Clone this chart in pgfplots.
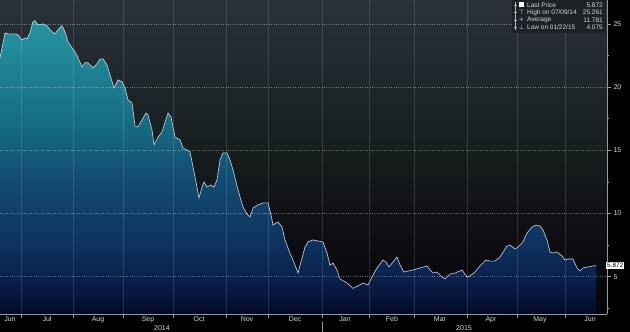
\documentclass[border=0pt]{standalone}
\usepackage{pgfplots}
\usepackage{pgfplotstable}
\pgfplotsset{compat=1.18}
\usepackage{fontspec}
\setmainfont{Liberation Sans}
\newfontfamily\symfont{DejaVu Sans}

\definecolor{lbl}{RGB}{215,215,215}
\definecolor{axcol}{RGB}{150,155,160}
\definecolor{linecol}{RGB}{205,215,225}
\definecolor{f0}{RGB}{4,10,40}
\definecolor{f1}{RGB}{10,32,76}
\definecolor{f2}{RGB}{14,52,96}
\definecolor{f3}{RGB}{19,76,114}
\definecolor{f4}{RGB}{22,110,132}
\definecolor{f5}{RGB}{38,148,160}
\definecolor{b0}{RGB}{5,5,10}
\definecolor{b1}{RGB}{10,10,14}
\definecolor{b2}{RGB}{18,18,22}
\definecolor{b3}{RGB}{22,30,30}
\definecolor{b4}{RGB}{30,38,42}
\definecolor{b5}{RGB}{42,50,58}
\definecolor{legbg}{RGB}{30,34,38}

\pgfdeclareverticalshading{areafill}{100bp}{color(0bp)=(f0); color(25bp)=(f0); color(31bp)=(f1); color(37.5bp)=(f2); color(48bp)=(f3); color(58bp)=(f4); color(75bp)=(f5); color(100bp)=(f5)}
\pgfdeclareverticalshading{bgshade}{100bp}{color(0bp)=(b0); color(25bp)=(b0); color(32bp)=(b1); color(41.5bp)=(b2); color(51bp)=(b3); color(60.5bp)=(b4); color(75bp)=(b5); color(100bp)=(b5)}

\pgfplotstableread{
x y
0 22.32
2 23.11
5 24.30
8 24.22
15 24.22
18 24.14
22 23.74
25 23.90
27 23.82
30 24.30
33 25.17
35 25.26
38 24.93
43 25.01
47 24.85
52 24.38
55 24.22
58 24.54
62 24.85
65 24.38
68 23.59
72 23.11
75 22.80
78 22.32
82 21.61
85 21.93
88 21.93
93 21.53
97 21.85
100 22.24
103 22.24
107 21.77
110 20.97
114 19.94
118 20.58
122 20.42
125 19.94
128 19.00
132 18.76
135 16.93
138 16.86
142 17.41
146 17.96
148 17.81
152 16.62
154 15.43
158 16.06
162 16.46
168 17.96
171 17.65
175 16.06
180 15.83
183 15.19
187 15.03
190 14.88
193 13.69
197 12.10
199 11.23
202 12.10
204 12.50
207 12.10
211 12.26
214 12.10
217 12.66
220 14.24
223 14.80
227 14.80
230 14.24
233 13.45
238 11.87
243 10.52
247 9.97
250 9.73
253 10.44
258 10.68
263 10.84
268 10.84
271 9.89
273 9.09
278 9.33
282 8.94
285 7.90
290 6.87
295 5.92
298 5.29
302 6.48
305 7.35
308 7.75
313 7.91
323 7.75
327 6.87
330 5.92
333 6.08
337 5.53
340 4.82
347 4.50
353 4.08
358 4.27
363 4.50
368 4.34
372 4.98
377 5.69
383 6.32
386 6.16
389 5.77
393 6.16
397 6.56
400 5.93
404 5.37
408 5.45
413 5.53
420 5.69
427 5.85
430 5.53
433 5.29
437 5.37
442 4.98
445 4.82
450 5.21
455 5.29
462 5.53
467 4.98
470 5.06
475 5.37
480 5.85
486 6.32
490 6.24
495 6.24
500 6.56
507 7.43
510 7.51
515 7.19
518 7.35
523 7.75
527 8.46
532 8.94
536 9.09
540 9.02
543 8.70
547 7.91
550 6.96
553 6.88
557 6.96
562 6.64
565 6.32
568 6.40
573 6.40
577 5.69
580 5.45
583 5.69
588 5.77
593 5.85
596 5.87
}\pricedata

\begin{document}
\begin{tikzpicture}[x=1pt,y=1pt]
\fill[black] (0,0) rectangle (630,332);
\begin{axis}[
  at={(0pt,18pt)}, anchor=south west,
  width=607pt, height=314pt, scale only axis,
  xmin=0, xmax=607, ymin=2.05, ymax=26.9,
  axis x line*=bottom, axis y line*=right,
  axis line style={axcol, line width=0.6pt},
  axis background/.style={shading=bgshade},
  axis on top,
  xtick={21,73,123,173,226,268,322,369,414,467,517,565},
  xticklabels={},
  extra x ticks={10,47,98,148,199,247,295,345,392,440,491,540,590},
  extra x tick labels={Jun,Jul,Aug,Sep,Oct,Nov,Dec,Jan,Feb,Mar,Apr,May,Jun},
  extra x tick style={grid=none, major tick length=0pt},
  ytick={5,10,15,20,25},
  minor ytick={2.5,7.5,12.5,17.5,22.5},
  extra y ticks={5.872},
  extra y tick labels={5.872},
  extra y tick style={grid=none, major tick length=0pt,
    tick label style={fill=white, text=black, inner sep=1pt, font=\fontsize{6.5}{7}\selectfont}},
  xmajorgrids, ymajorgrids,
  x grid style={draw=white, opacity=0.13, line width=0.5pt},
  y grid style={draw=white, opacity=0.38, dotted, line width=0.5pt},
  tick align=outside,
  major tick length=4pt, minor tick length=2pt,
  every tick/.style={axcol, line width=0.6pt},
  tick label style={lbl, font=\fontsize{7}{8}\selectfont},
  xticklabel style={yshift=1pt},
  yticklabel style={xshift=-1pt},
  /pgf/number format/assume math mode=true,
]
\addplot[draw=none, shading=areafill] table[x=x,y=y] {\pricedata} -- (axis cs:596,2.05) -- (axis cs:0,2.05) -- cycle;
\addplot[linecol, line width=0.6pt] table[x=x,y=y] {\pricedata};
\end{axis}
% year labels
\node[lbl, font=\fontsize{7}{8}\selectfont] at (162,4) {2014};
\node[lbl, font=\fontsize{7}{8}\selectfont] at (464,4) {2015};
\draw[axcol, line width=0.5pt] (322,0) -- (322,10);
% legend box
\fill[legbg] (512,299) rectangle (606,332);
\draw[axcol!70, line width=0.4pt] (515,330) -- (515,302);
\foreach \yy in {327,319.5,312,304.5} {\draw[axcol!70, line width=0.4pt] (514,\yy) -- (517,\yy);}
\fill[white] (519,324.5) rectangle (524,329.5);
\node[lbl, font=\symfont\fontsize{6}{6}\selectfont, inner sep=0pt] at (521.5,319.5) {⊤};
\node[lbl, font=\symfont\fontsize{6}{6}\selectfont, inner sep=0pt] at (521.5,312) {+};
\node[lbl, font=\symfont\fontsize{6}{6}\selectfont, inner sep=0pt] at (521.5,304.5) {⊥};
\begin{scope}[every node/.style={lbl, font=\fontsize{6.5}{7}\selectfont, inner sep=0pt}]
\node[anchor=west] at (527,327) {Last Price};
\node[anchor=west] at (527,319.5) {High on 07/09/14};
\node[anchor=west] at (527,312) {Average};
\node[anchor=west] at (527,304.5) {Low on 01/22/15};
\node[anchor=east] at (603,327) {5.872};
\node[anchor=east] at (603,319.5) {25.261};
\node[anchor=east] at (603,312) {11.781};
\node[anchor=east] at (603,304.5) {4.075};
\end{scope}
\pgfresetboundingbox
\useasboundingbox (0,0) rectangle (630,332);
\end{tikzpicture}
\end{document}
